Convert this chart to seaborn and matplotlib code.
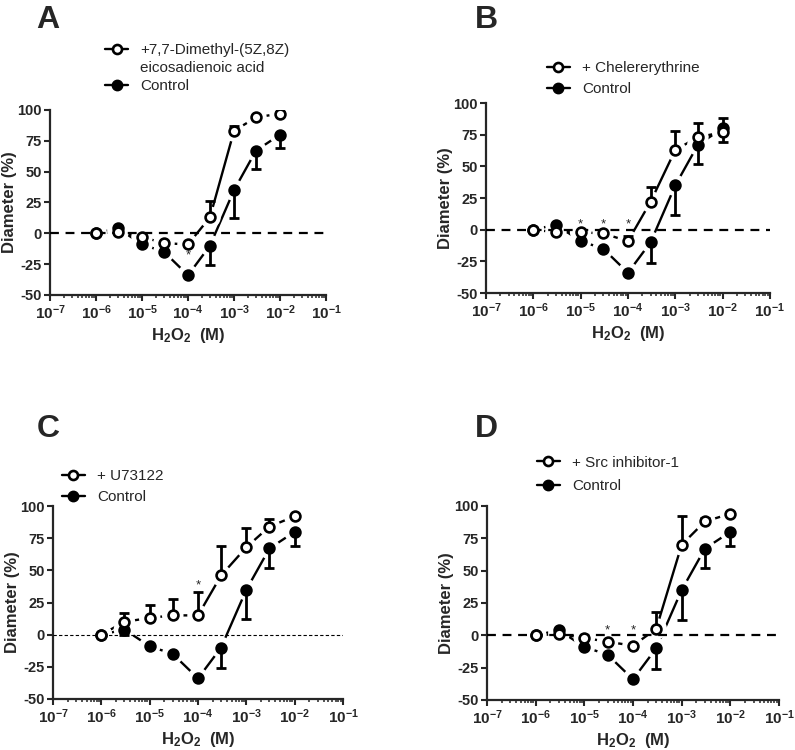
import numpy as np
import matplotlib
matplotlib.use("Agg")
import matplotlib.pyplot as plt
from matplotlib.lines import Line2D
import seaborn as sns

# DATA
conc = [1e-6, 3e-6, 1e-5, 3e-5, 1e-4, 3e-4, 1e-3, 3e-3, 1e-2]

# control curve is the same in all four panels (SEM drawn downward)
ctrl_mean = [0, 4, -9, -15, -34, -10, 35, 67, 80]
ctrl_err = [0, 4, 0, 0, 0, 16, 23, 15, 11]

# treated curves (SEM drawn upward)
a_mean = [0, 1, -3, -8, -9, 13, 83, 94, 97]
a_err = [0, 0, 0, 0, 0, 13, 4, 1, 1]
b_mean = [0, -2, -2, -3, -9, 22, 63, 73, 77]
b_err = [0, 0, 0, 0, 4, 12, 15, 11, 11]
c_mean = [0, 10, 13, 15, 15, 46, 68, 84, 92]
c_err = [0, 7, 10, 13, 18, 23, 15, 6, 1]
d_mean = [0, 1, -2, -5, -8, 5, 70, 88, 94]
d_err = [0, 0, 0, 0, 0, 13, 22, 3, 1]

# significance markers
a_star_x, a_star_y = [1e-4], [-18]
b_star_x, b_star_y = [1e-5, 3e-5, 1e-4], [4, 4, 4]
c_star_x, c_star_y = [1e-4], [38]
d_star_x, d_star_y = [3e-5, 1e-4], [4, 4]

a_label = ["+7,7-Dimethyl-(5Z,8Z)", "eicosadienoic acid", "Control"]
b_label = ["+ Chelererythrine", "Control"]
c_label = ["+ U73122", "Control"]
d_label = ["+ Src inhibitor-1", "Control"]

xticks = [1e-7, 1e-6, 1e-5, 1e-4, 1e-3, 1e-2, 1e-1]
xtick_labels = ["$10^{-7}$", "$10^{-6}$", "$10^{-5}$", "$10^{-4}$",
                "$10^{-3}$", "$10^{-2}$", "$10^{-1}$"]
yticks = [-50, -25, 0, 25, 50, 75, 100]
ytick_labels = ["-50", "-25", "0", "25", "50", "75", "100"]

sns.set_style("ticks")
plt.rcParams["font.family"] = ["Liberation Sans", "DejaVu Sans"]
plt.rcParams["mathtext.fontset"] = "custom"
plt.rcParams["mathtext.rm"] = "Liberation Sans:bold"
plt.rcParams["mathtext.it"] = "Liberation Sans:bold"
plt.rcParams["mathtext.bf"] = "Liberation Sans:bold"
plt.rcParams["axes.unicode_minus"] = False


def draw_series(ax, mean, err, filled, up):
    x = np.array(conc)
    y = np.array(mean, dtype=float)
    e = np.array(err, dtype=float)
    sns.lineplot(x=x, y=y, ax=ax, color="black", lw=1.7, estimator=None,
                 sort=False, zorder=2)
    # white halo so the segments stop short of the symbols
    sns.scatterplot(x=x, y=y, ax=ax, s=240, color="white", edgecolor="none",
                    linewidth=0, zorder=3)
    m = e > 0
    if m.any():
        zeros = np.zeros(m.sum())
        yerr = [zeros, e[m]] if up else [e[m], zeros]
        ax.errorbar(x[m], y[m], yerr=yerr, fmt="none", ecolor="black",
                    elinewidth=2.0, capsize=3.8, capthick=2.0, zorder=5)
    sns.scatterplot(x=x, y=y, ax=ax, s=50,
                    color="black" if filled else "white",
                    edgecolor="black", linewidth=1.9, zorder=6)


def draw_panel(pos, letter, letter_xy, treat_mean, treat_err, star_x, star_y,
               labels, leg_anchor, leg_spacing, thin_zero=False):
    ax = fig.add_axes(pos)
    ax.set_xscale("log")
    if thin_zero:
        ax.axhline(0, color="black", lw=0.8, dashes=(3, 2), zorder=4)
    else:
        ax.axhline(0, color="black", lw=1.6, dashes=(4, 3), zorder=4)
    draw_series(ax, ctrl_mean, ctrl_err, True, False)
    draw_series(ax, treat_mean, treat_err, False, True)
    for sx, sy in zip(star_x, star_y):
        ax.text(sx, sy, "*", ha="center", va="center", fontsize=9.5, zorder=7)

    ax.set_xlim(1e-7, 1e-1)
    ax.set_ylim(-50, 100)
    ax.set_xticks(xticks)
    ax.set_xticklabels(xtick_labels, fontsize=11)
    ax.set_yticks(yticks)
    ax.set_yticklabels(ytick_labels, fontsize=10.5, fontweight="bold")
    ax.xaxis.set_minor_locator(matplotlib.ticker.LogLocator(base=10, subs=np.arange(2, 10), numticks=20))
    ax.xaxis.set_minor_formatter(matplotlib.ticker.NullFormatter())
    ax.tick_params(axis="both", which="major", direction="out", length=4, width=1.5, pad=2)
    ax.tick_params(axis="x", which="minor", direction="out", length=2.5, width=1.1)
    ax.set_xlabel("H$_2$O$_2$  (M)", fontsize=12, fontweight="bold", labelpad=3)
    ax.set_ylabel("Diameter (%)", fontsize=12, fontweight="bold", labelpad=0)
    sns.despine(ax=ax)
    for sp in ["left", "bottom"]:
        ax.spines[sp].set_linewidth(1.6)
    ax.set_facecolor("white")

    open_h = Line2D([], [], color="black", lw=1.7, marker="o", ms=6.5,
                    mfc="white", mec="black", mew=1.9)
    fill_h = Line2D([], [], color="black", lw=1.7, marker="o", ms=7.5,
                    mfc="black", mec="black")
    blank_h = Line2D([], [], alpha=0)
    if len(labels) == 3:
        handles = [open_h, blank_h, fill_h]
    else:
        handles = [open_h, fill_h]
    ax.legend(handles, labels, loc="upper left", bbox_to_anchor=leg_anchor,
              frameon=False, fontsize=11, handlelength=1.5, handletextpad=0.8,
              borderpad=0, borderaxespad=0, labelspacing=leg_spacing)

    fig.text(letter_xy[0], letter_xy[1], letter, fontsize=23, fontweight="bold",
             ha="left", va="baseline")
    return ax


fig = plt.figure(figsize=(7.95, 7.5), dpi=100)
fig.patch.set_facecolor("white")

draw_panel([0.0629, 0.6067, 0.3472, 0.2467], "A", (36 / 795, 1 - 28 / 750),
           a_mean, a_err, a_star_x, a_star_y, a_label, (0.20, 1.36), 0.25)
draw_panel([0.6113, 0.6093, 0.3572, 0.2533], "B", (475 / 795, 1 - 28 / 750),
           b_mean, b_err, b_star_x, b_star_y, b_label, (0.215, 1.22), 0.45)
draw_panel([0.0667, 0.068, 0.3648, 0.2573], "C", (37 / 795, 1 - 437 / 750),
           c_mean, c_err, c_star_x, c_star_y, c_label, (0.03, 1.19), 0.45,
           thin_zero=True)
draw_panel([0.6126, 0.0667, 0.3673, 0.2587], "D", (475 / 795, 1 - 437 / 750),
           d_mean, d_err, d_star_x, d_star_y, d_label, (0.17, 1.26), 0.65)

fig.savefig("out.png", dpi=100, facecolor="white")
